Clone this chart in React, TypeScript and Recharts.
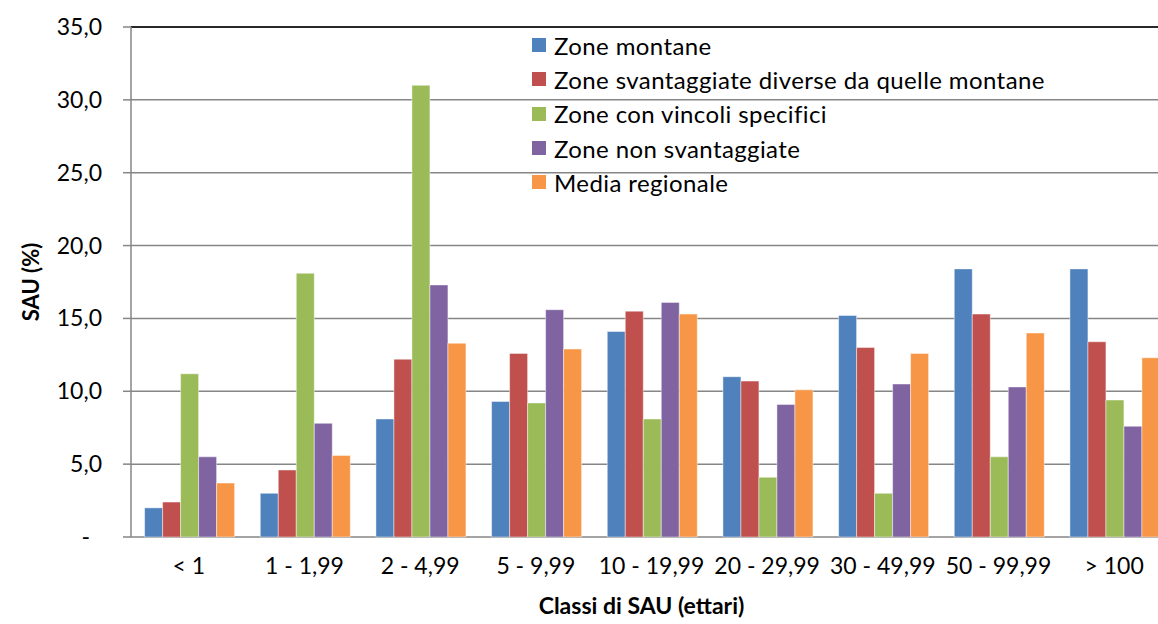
import { Bar, BarChart, CartesianGrid, Legend, ReferenceLine, XAxis, YAxis } from 'recharts'

const CATEGORIES = ['< 1', '1 - 1,99', '2 - 4,99', '5 - 9,99', '10 - 19,99', '20 - 29,99', '30 - 49,99', '50 - 99,99', '> 100']

const ZONE_MONTANE = [2.0, 3.0, 8.1, 9.3, 14.1, 11.0, 15.2, 18.4, 18.4]
const ZONE_SVANTAGGIATE = [2.4, 4.6, 12.2, 12.6, 15.5, 10.7, 13.0, 15.3, 13.4]
const ZONE_VINCOLI = [11.2, 18.1, 31.0, 9.2, 8.1, 4.1, 3.0, 5.5, 9.4]
const ZONE_NON_SVANTAGGIATE = [5.5, 7.8, 17.3, 15.6, 16.1, 9.1, 10.5, 10.3, 7.6]
const MEDIA_REGIONALE = [3.7, 5.6, 13.3, 12.9, 15.3, 10.1, 12.6, 14.0, 12.3]

const Y_TICKS = [0, 5, 10, 15, 20, 25, 30, 35]
const EDGE_TICKS = [0, 1, 2, 3, 4, 5, 6, 7, 8, 9]

const SERIES = [
  { key: 'montane', name: 'Zone montane', color: '#4F81BD', values: ZONE_MONTANE },
  { key: 'svant', name: 'Zone svantaggiate diverse da quelle montane', color: '#C0504D', values: ZONE_SVANTAGGIATE },
  { key: 'vincoli', name: 'Zone con vincoli specifici', color: '#9BBB59', values: ZONE_VINCOLI },
  { key: 'nonsvant', name: 'Zone non svantaggiate', color: '#8064A2', values: ZONE_NON_SVANTAGGIATE },
  { key: 'media', name: 'Media regionale', color: '#F79646', values: MEDIA_REGIONALE },
]

const data = CATEGORIES.map((cat, i) => {
  const row: Record<string, string | number> = { cat }
  SERIES.forEach((s) => {
    row[s.key] = s.values[i]
  })
  return row
})

const FONT = 'Lato, "Open Sans", sans-serif'
const AXIS_GRAY = '#868686'

function YTick(props: any) {
  const { x, y, payload } = props
  const v = payload.value as number
  const label = v === 0 ? '-' : v.toFixed(1).replace('.', ',')
  return (
    <text x={v === 0 ? x - 12 : x} y={y} dy="0.35em" textAnchor="end" fill="#000" fontSize={23} fontFamily={FONT}>
      {label}
    </text>
  )
}

function LegendBox() {
  return (
    <div style={{ fontFamily: FONT, fontSize: 24, letterSpacing: 0.4, color: '#000' }}>
      {SERIES.map((s) => (
        <div key={s.key} style={{ display: 'flex', alignItems: 'center', height: 34.3 }}>
          <span style={{ width: 14, height: 14, background: s.color, marginRight: 8, display: 'inline-block', flexShrink: 0 }} />
          <span style={{ whiteSpace: 'nowrap' }}>{s.name}</span>
        </div>
      ))}
    </div>
  )
}

export default function App() {
  return (
    <div style={{ position: 'absolute', left: 0, top: 0, width: 1158, height: 624, overflow: 'hidden', background: '#fff' }}>
      <BarChart
        width={1172}
        height={624}
        data={data}
        margin={{ top: 27, right: 0, left: 0, bottom: 7 }}
        barCategoryGap={13.6}
        barGap={0}
      >
        <CartesianGrid vertical={false} stroke={AXIS_GRAY} strokeWidth={1.5} />
        <ReferenceLine y={35} stroke="#000" strokeWidth={1.5} />
        <XAxis
          xAxisId="edges"
          type="number"
          domain={[0, 9]}
          ticks={EDGE_TICKS}
          tick={false}
          tickSize={8}
          height={0}
          axisLine={{ stroke: AXIS_GRAY, strokeWidth: 1.5 }}
          tickLine={{ stroke: AXIS_GRAY, strokeWidth: 1.5 }}
        />
        <XAxis
          dataKey="cat"
          height={80}
          axisLine={false}
          tickLine={false}
          tickSize={0}
          tickMargin={21}
          interval={0}
          tick={{ fill: '#000', fontSize: 23, fontFamily: FONT }}
          label={{
            value: 'Classi di SAU (ettari)',
            position: 'insideBottom',
            offset: 3,
            dx: -10,
            style: { fill: '#000', fontSize: 23, fontWeight: 700, fontFamily: FONT },
          }}
        />
        <YAxis
          width={131}
          domain={[0, 35]}
          ticks={Y_TICKS}
          tickSize={8}
          tickMargin={21}
          tick={<YTick />}
          axisLine={{ stroke: AXIS_GRAY, strokeWidth: 1.5 }}
          tickLine={{ stroke: AXIS_GRAY, strokeWidth: 1.5 }}
          label={{
            value: 'SAU (%)',
            angle: -90,
            position: 'center',
            dx: -34,
            style: { fill: '#000', fontSize: 22, fontWeight: 700, fontFamily: FONT },
          }}
        />
        <Legend
          layout="vertical"
          verticalAlign="middle"
          align="center"
          wrapperStyle={{ left: 532, top: 28, width: 620 }}
          content={<LegendBox />}
        />
        {SERIES.map((s) => (
          <Bar
            key={s.key}
            dataKey={s.key}
            name={s.name}
            fill={s.color}
            stroke="#ffffff"
            strokeOpacity={0.45}
            strokeWidth={1}
            isAnimationActive={false}
          />
        ))}
      </BarChart>
    </div>
  )
}
